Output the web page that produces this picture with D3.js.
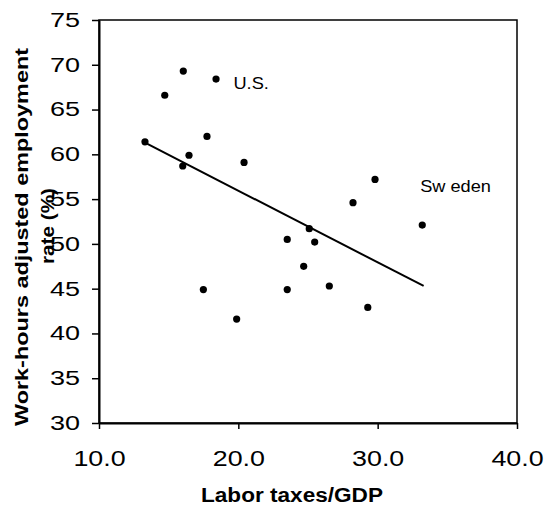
<!DOCTYPE html>
<html>
<head>
<meta charset="utf-8">
<script src="https://d3js.org/d3.v7.min.js"></script>
<style>
  body { margin: 0; background: #fff; }
  text { font-family: "Liberation Sans", Arial, sans-serif; fill: #000; }
</style>
</head>
<body>
<svg width="545" height="508"></svg>
<script>
// labour taxes / GDP (x) and work-hours adjusted employment rate (y)
var taxes = [16.05, 18.40, 14.72, 17.75, 13.30, 16.46, 16.01, 20.41, 23.51, 17.49,
             23.51, 19.88, 29.81, 28.23, 33.20, 25.09, 25.48, 24.69, 26.53, 29.29];
var employment = [69.3, 68.4, 66.6, 62.0, 61.4, 59.9, 58.7, 59.1, 50.5, 44.9,
                  44.9, 41.6, 57.2, 54.6, 52.1, 51.7, 50.2, 47.5, 45.3, 42.9];

// fitted line as drawn
var trendX = [13.3, 33.3];
var trendY = [61.3, 45.3];

var xTicks = [10, 20, 30, 40];
var yTicks = [30, 35, 40, 45, 50, 55, 60, 65, 70, 75];

var labelText = ["U.S.", "Sw eden"];
var labelX = [19.65, 33.05];
var labelY = [67.3, 55.8];

var svg = d3.select("svg"),
    margin = {top: 20, right: 28, bottom: 85, left: 99},
    width = +svg.attr("width") - margin.left - margin.right,
    height = +svg.attr("height") - margin.top - margin.bottom;

var x = d3.scaleLinear().domain([10, 40]).range([0, width]);
var y = d3.scaleLinear().domain([30, 75]).range([height, 0]);

var g = svg.append("g")
    .attr("transform", "translate(" + margin.left + "," + margin.top + ")");

// widen text a bit, the original font runs wide
function stretch(sel, k) {
  sel.each(function() {
    var w = this.getComputedTextLength();
    d3.select(this).attr("textLength", w * k).attr("lengthAdjust", "spacingAndGlyphs");
  });
}

// frame
g.append("rect")
  .attr("width", width)
  .attr("height", height)
  .attr("fill", "none")
  .attr("stroke", "#000")
  .attr("stroke-width", 1.5);

var xAxis = g.append("g")
  .attr("transform", "translate(0," + height + ")")
  .call(d3.axisBottom(x).tickValues(xTicks).tickFormat(d3.format(".1f"))
        .tickSize(6).tickSizeOuter(0).tickPadding(21));

var yAxis = g.append("g")
  .call(d3.axisLeft(y).tickValues(yTicks).tickSize(7).tickSizeOuter(0).tickPadding(12));

[xAxis, yAxis].forEach(function(a) {
  a.select(".domain").attr("stroke-width", 2);
  a.selectAll(".tick line").attr("stroke-width", 1.5);
  a.selectAll("text").attr("font-family", null);
});
xAxis.selectAll("text").attr("font-size", "22px");
yAxis.selectAll("text").attr("font-size", "20px");
stretch(xAxis.selectAll("text"), 1.22);
stretch(yAxis.selectAll("text"), 1.35);

// trend line
g.append("line")
  .attr("x1", x(trendX[0])).attr("y1", y(trendY[0]))
  .attr("x2", x(trendX[1])).attr("y2", y(trendY[1]))
  .attr("stroke", "#000")
  .attr("stroke-width", 2);

// points
g.selectAll(".dot")
  .data(taxes)
  .enter().append("circle")
  .attr("class", "dot")
  .attr("cx", function(d) { return x(d); })
  .attr("cy", function(d, i) { return y(employment[i]); })
  .attr("r", 3.6)
  .attr("fill", "#000");

// country labels
g.selectAll(".lab")
  .data(labelText)
  .enter().append("text")
  .attr("class", "lab")
  .attr("x", function(d, i) { return x(labelX[i]); })
  .attr("y", function(d, i) { return y(labelY[i]); })
  .attr("font-size", "17px")
  .text(function(d) { return d; });
stretch(g.selectAll(".lab"), 1.07);

// axis titles
svg.append("text")
  .attr("x", 292)
  .attr("y", 502)
  .attr("text-anchor", "middle")
  .attr("font-size", "20px")
  .attr("font-weight", "bold")
  .attr("textLength", 182)
  .attr("lengthAdjust", "spacingAndGlyphs")
  .text("Labor taxes/GDP");

svg.append("text")
  .attr("transform", "translate(28,237) rotate(-90)")
  .attr("text-anchor", "middle")
  .attr("font-size", "18px")
  .attr("font-weight", "bold")
  .attr("textLength", 378)
  .attr("lengthAdjust", "spacingAndGlyphs")
  .text("Work-hours adjusted employment");

svg.append("text")
  .attr("transform", "translate(54,226) rotate(-90)")
  .attr("text-anchor", "middle")
  .attr("font-size", "18px")
  .attr("font-weight", "bold")
  .attr("textLength", 76)
  .attr("lengthAdjust", "spacingAndGlyphs")
  .text("rate (%)");
</script>
</body>
</html>
